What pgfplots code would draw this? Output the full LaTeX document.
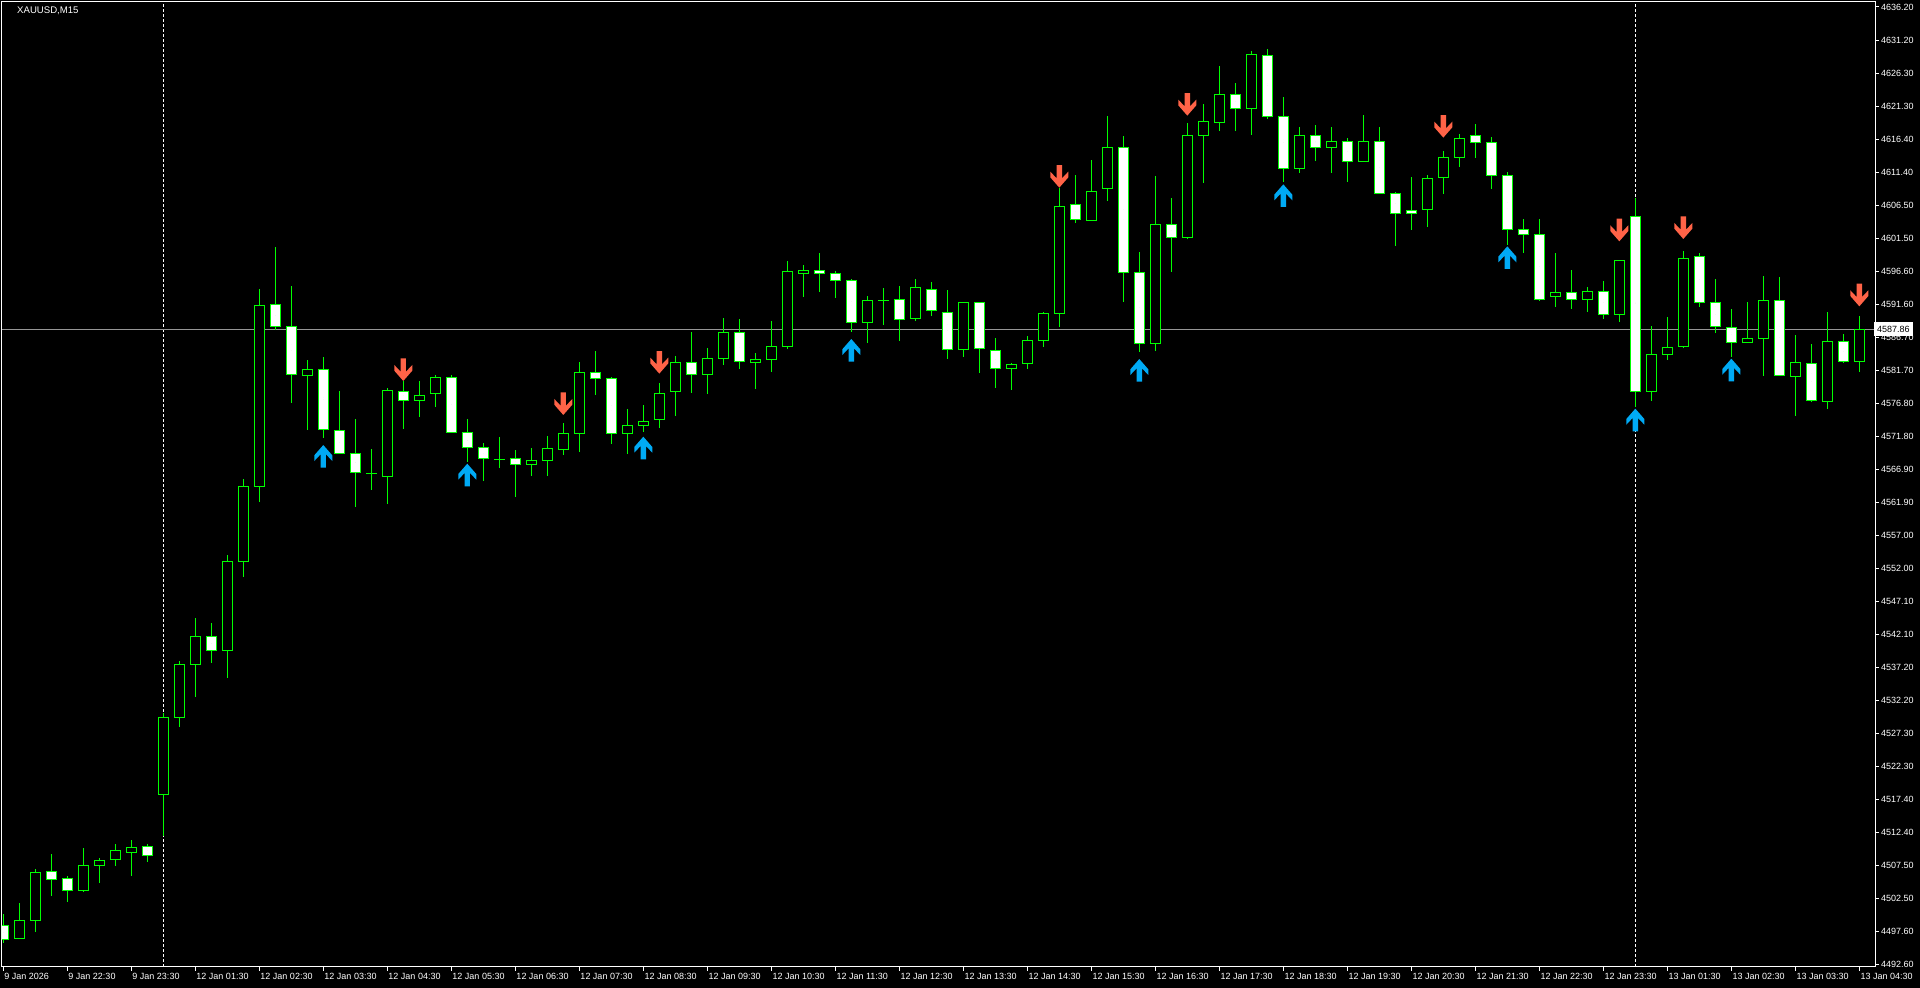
\documentclass[border=0pt]{standalone}
\usepackage{pgfplots}
\pgfplotsset{compat=1.18}
\usepackage{pgfplotstable}
\usepackage{fontspec}
\setmainfont{Liberation Sans}
\definecolor{cgreen}{RGB}{0,255,0}
\definecolor{arrred}{RGB}{255,99,71}
\definecolor{arrblue}{RGB}{0,170,245}
\definecolor{bidgray}{RGB}{150,150,150}

\pgfdeclareplotmark{arrdown}{%
 \pgfpathmoveto{\pgfqpoint{-2.7pt}{11.3pt}}%
 \pgfpathlineto{\pgfqpoint{2.7pt}{11.3pt}}%
 \pgfpathlineto{\pgfqpoint{2.7pt}{-2pt}}%
 \pgfpathlineto{\pgfqpoint{9pt}{4.7pt}}%
 \pgfpathlineto{\pgfqpoint{9pt}{-1pt}}%
 \pgfpathlineto{\pgfqpoint{0pt}{-11.3pt}}%
 \pgfpathlineto{\pgfqpoint{-9pt}{-1pt}}%
 \pgfpathlineto{\pgfqpoint{-9pt}{4.7pt}}%
 \pgfpathlineto{\pgfqpoint{-2.7pt}{-2pt}}%
 \pgfpathclose\pgfusepathqfill}
\pgfdeclareplotmark{arrup}{%
 \pgfpathmoveto{\pgfqpoint{-2.7pt}{-11.3pt}}%
 \pgfpathlineto{\pgfqpoint{2.7pt}{-11.3pt}}%
 \pgfpathlineto{\pgfqpoint{2.7pt}{2pt}}%
 \pgfpathlineto{\pgfqpoint{9pt}{-4.7pt}}%
 \pgfpathlineto{\pgfqpoint{9pt}{1pt}}%
 \pgfpathlineto{\pgfqpoint{0pt}{11.3pt}}%
 \pgfpathlineto{\pgfqpoint{-9pt}{1pt}}%
 \pgfpathlineto{\pgfqpoint{-9pt}{-4.7pt}}%
 \pgfpathlineto{\pgfqpoint{-2.7pt}{2pt}}%
 \pgfpathclose\pgfusepathqfill}

\pgfplotstableread{
k O H L C
1 4496.45 4501.80 4496.45 4499.20
2 4499.20 4506.90 4497.40 4506.40
5 4503.70 4510.00 4503.40 4507.40
6 4507.40 4508.50 4504.80 4508.20
7 4508.30 4510.60 4507.40 4509.70
8 4509.35 4511.30 4505.90 4510.20
10 4518.10 4530.25 4511.80 4529.60
11 4529.60 4538.10 4528.20 4537.60
12 4537.60 4544.50 4532.70 4541.75
14 4539.65 4553.95 4535.50 4553.10
15 4553.10 4565.45 4550.70 4564.30
16 4564.30 4593.90 4561.95 4591.45
19 4581.00 4583.25 4572.80 4581.80
23 4566.25 4569.90 4563.75 4566.25
24 4565.80 4579.00 4561.65 4578.70
26 4577.20 4580.10 4574.75 4577.95
27 4578.25 4581.00 4576.25 4580.65
31 4568.40 4571.65 4567.10 4568.40
33 4567.60 4570.05 4565.90 4568.20
34 4568.20 4571.85 4565.90 4570.00
35 4569.85 4573.75 4569.00 4572.25
36 4572.25 4582.90 4569.50 4581.40
39 4572.25 4575.90 4569.15 4573.45
40 4573.45 4576.50 4572.45 4574.10
41 4574.25 4579.75 4573.05 4578.25
42 4578.50 4583.85 4574.85 4582.90
44 4581.10 4585.00 4578.10 4583.50
45 4583.50 4589.50 4582.50 4587.40
47 4582.85 4584.25 4578.90 4583.35
48 4583.30 4589.10 4581.50 4585.30
49 4585.30 4598.10 4584.85 4596.55
50 4596.25 4597.50 4592.75 4596.70
54 4588.90 4592.85 4585.85 4592.20
55 4592.25 4594.00 4588.50 4592.25
57 4589.50 4595.40 4589.15 4594.15
60 4584.85 4591.90 4583.75 4591.90
63 4582.00 4582.85 4578.75 4582.60
64 4582.75 4586.85 4581.90 4586.20
65 4586.20 4590.40 4585.15 4590.25
66 4590.25 4609.10 4588.25 4606.30
68 4604.20 4613.25 4604.20 4608.50
69 4609.00 4619.85 4607.15 4615.15
72 4585.75 4610.85 4584.65 4603.60
74 4601.65 4618.75 4601.35 4616.95
75 4616.95 4621.65 4609.85 4619.05
76 4618.90 4627.35 4617.65 4623.10
78 4621.00 4629.60 4617.05 4629.10
81 4611.95 4618.20 4611.35 4616.95
83 4615.15 4618.20 4611.35 4616.05
85 4613.05 4620.00 4612.90 4616.05
89 4605.85 4611.00 4603.25 4610.50
90 4610.65 4614.60 4608.20 4613.65
91 4613.65 4617.15 4612.25 4616.50
97 4592.80 4599.30 4591.25 4593.45
99 4592.35 4594.20 4590.50 4593.55
101 4590.10 4598.20 4589.00 4598.20
103 4578.55 4588.35 4577.15 4584.10
104 4584.10 4589.70 4583.30 4585.15
105 4585.30 4599.60 4585.10 4598.50
109 4585.90 4591.90 4585.75 4586.50
110 4586.50 4595.85 4580.90 4592.20
112 4580.80 4587.00 4574.90 4582.90
114 4577.05 4590.45 4575.95 4586.05
116 4583.05 4589.85 4581.50 4587.86
}\bull

\pgfplotstableread{
k O H L C
0 4498.40 4500.15 4495.75 4496.40
3 4506.55 4509.20 4502.90 4505.40
4 4505.50 4505.90 4502.00 4503.70
9 4510.25 4510.60 4507.95 4509.00
13 4541.75 4543.80 4537.80 4539.65
17 4591.60 4600.20 4587.75 4588.30
18 4588.30 4594.40 4576.80 4581.10
20 4581.85 4583.65 4571.60 4572.85
21 4572.70 4578.60 4569.20 4569.20
22 4569.25 4574.40 4561.25 4566.40
25 4578.50 4580.10 4572.90 4577.25
28 4580.65 4581.00 4572.25 4572.40
29 4572.35 4574.40 4568.00 4570.15
30 4570.15 4570.75 4565.15 4568.45
32 4568.50 4569.75 4562.75 4567.60
37 4581.40 4584.60 4578.00 4580.50
38 4580.50 4580.65 4570.65 4572.25
43 4582.90 4587.40 4578.25 4581.10
46 4587.40 4589.35 4581.95 4583.00
51 4596.65 4599.30 4593.50 4596.25
52 4596.25 4596.60 4592.50 4595.20
53 4595.20 4595.35 4587.50 4588.90
56 4592.35 4594.35 4586.15 4589.35
58 4593.85 4594.95 4589.90 4590.70
59 4590.40 4593.75 4583.35 4584.85
61 4591.90 4591.90 4581.35 4585.00
62 4584.70 4586.50 4579.10 4582.00
67 4606.60 4611.00 4603.75 4604.35
70 4615.15 4616.85 4591.90 4596.40
71 4596.40 4599.45 4584.50 4585.75
73 4603.60 4607.55 4596.50 4601.65
77 4623.10 4624.80 4617.65 4621.00
79 4628.95 4629.90 4619.45 4619.80
80 4619.80 4622.75 4610.00 4611.95
82 4616.95 4618.50 4613.15 4615.15
84 4616.05 4616.55 4610.00 4613.05
86 4616.05 4618.20 4608.25 4608.25
87 4608.25 4608.45 4600.40 4605.25
88 4605.70 4610.70 4602.80 4605.25
92 4616.95 4618.65 4613.60 4615.90
93 4615.90 4616.70 4608.95 4610.95
94 4610.95 4611.45 4600.50 4602.85
95 4602.85 4604.40 4599.35 4602.10
96 4602.10 4604.40 4592.15 4592.35
98 4593.40 4596.75 4590.95 4592.35
100 4593.55 4595.10 4589.45 4590.10
102 4604.80 4607.60 4576.25 4578.55
106 4598.80 4599.25 4591.25 4591.90
107 4591.90 4595.35 4587.35 4588.30
108 4588.15 4590.90 4583.75 4585.90
111 4592.20 4595.65 4580.95 4580.95
113 4582.75 4585.65 4576.90 4577.20
115 4586.05 4587.15 4582.85 4583.05
}\bear

\pgfplotsset{candle/.style={only marks, mark=*, mark size=0pt, mark options={draw=none, fill=none},
  error bars/.cd, y dir=both, y explicit, error mark=none}}

\begin{document}
\begin{tikzpicture}
\useasboundingbox (0,0) rectangle (1920pt,988pt);
\fill[black] (0,0) rectangle (1920pt,988pt);
\begin{axis}[
  at={(2pt,21pt)}, anchor=south west,
  width=1873pt, height=965pt, scale only axis,
  xmin=-0.08, xmax=116.98, ymin=4492.2, ymax=4636.95,
  axis line style={white, line width=1pt},
  tick align=outside, major tick length=4pt,
  tick style={white, line width=1pt},
  xtick pos=left, ytick pos=right, yticklabel pos=right,
  tick label style={text=white, font=\fontsize{9pt}{10pt}\selectfont},
  xtick={0,4,...,116},
  xticklabels={9 Jan 2026,9 Jan 22:30,9 Jan 23:30,12 Jan 01:30,12 Jan 02:30,12 Jan 03:30,12 Jan 04:30,12 Jan 05:30,12 Jan 06:30,12 Jan 07:30,12 Jan 08:30,12 Jan 09:30,12 Jan 10:30,12 Jan 11:30,12 Jan 12:30,12 Jan 13:30,12 Jan 14:30,12 Jan 15:30,12 Jan 16:30,12 Jan 17:30,12 Jan 18:30,12 Jan 19:30,12 Jan 20:30,12 Jan 21:30,12 Jan 22:30,12 Jan 23:30,13 Jan 01:30,13 Jan 02:30,13 Jan 03:30,13 Jan 04:30},
  xticklabel style={anchor=north west, inner sep=0pt, xshift=1pt, yshift=-2pt},
  ytick={4492.600,4497.552,4502.503,4507.455,4512.407,4517.359,4522.310,4527.262,4532.214,4537.166,4542.117,4547.069,4552.021,4556.972,4561.924,4566.876,4571.828,4576.779,4581.731,4586.683,4591.634,4596.586,4601.538,4606.490,4611.441,4616.393,4621.345,4626.297,4631.248,4636.200},
  yticklabels={4492.60,4497.60,4502.50,4507.50,4512.40,4517.40,4522.30,4527.30,4532.20,4537.20,4542.10,4547.10,4552.00,4557.00,4561.90,4566.90,4571.80,4576.80,4581.70,4586.70,4591.60,4596.60,4601.50,4606.50,4611.40,4616.40,4621.30,4626.30,4631.20,4636.20},
  yticklabel style={anchor=west, inner sep=0pt, xshift=2pt},
  extra x ticks={10,102}, extra x tick labels={},
  extra x tick style={grid=major, major tick length=0pt, major grid style={white, line width=1pt, dash pattern=on 3pt off 2pt}},
  extra y ticks={4587.86}, extra y tick labels={4587.86},
  extra y tick style={grid=major, major tick length=0pt, major grid style={bidgray, line width=1pt},
     yticklabel style={fill=white, text=black, inner xsep=3pt, inner ysep=4pt, xshift=-3pt}},
  clip=true,
]
% wicks
\addplot[candle, error bar style={draw=cgreen, line width=1pt}]
  table[x=k, y expr={(\thisrow{H}+\thisrow{L})/2}, y error expr={(\thisrow{H}-\thisrow{L})/2}] {\bull};
\addplot[candle, error bar style={draw=cgreen, line width=1pt}]
  table[x=k, y expr={(\thisrow{H}+\thisrow{L})/2}, y error expr={(\thisrow{H}-\thisrow{L})/2}] {\bear};
% body outlines
\addplot[candle, error bar style={draw=cgreen, line width=11pt}]
  table[x=k, y expr={(\thisrow{O}+\thisrow{C})/2}, y error expr={abs(\thisrow{C}-\thisrow{O})/2+0.075}] {\bull};
\addplot[candle, error bar style={draw=cgreen, line width=11pt}]
  table[x=k, y expr={(\thisrow{O}+\thisrow{C})/2}, y error expr={abs(\thisrow{C}-\thisrow{O})/2+0.075}] {\bear};
% body fills
\addplot[candle, error bar style={draw=black, line width=9pt}]
  table[x=k, y expr={(\thisrow{O}+\thisrow{C})/2}, y error expr={max(abs(\thisrow{C}-\thisrow{O})/2-0.075,0)}] {\bull};
\addplot[candle, error bar style={draw=white, line width=9pt}]
  table[x=k, y expr={(\thisrow{O}+\thisrow{C})/2}, y error expr={max(abs(\thisrow{C}-\thisrow{O})/2-0.075,0)}] {\bear};
% signal arrows
\addplot[only marks, mark=arrdown, color=arrred, mark options={fill=arrred, draw=none}]
  coordinates {(25,4581.8) (35,4576.7) (41,4582.9) (66,4610.8) (74,4621.6) (90,4618.3) (101,4602.75) (105,4603.1) (116,4593.0)};
\addplot[only marks, mark=arrup, color=arrblue, mark options={fill=arrblue, draw=none}]
  coordinates {(20,4568.8) (29,4566.0) (40,4570.05) (53,4584.7) (71,4581.7) (80,4607.9) (94,4598.6) (102,4574.25) (108,4581.75)};
\node[anchor=west, inner sep=0pt, text=white, font=\fontsize{9.6pt}{11pt}\selectfont, xshift=15pt, yshift=-8.5pt] at (rel axis cs:0,1) {XAUUSD,M15};
\end{axis}
\end{tikzpicture}
\end{document}
